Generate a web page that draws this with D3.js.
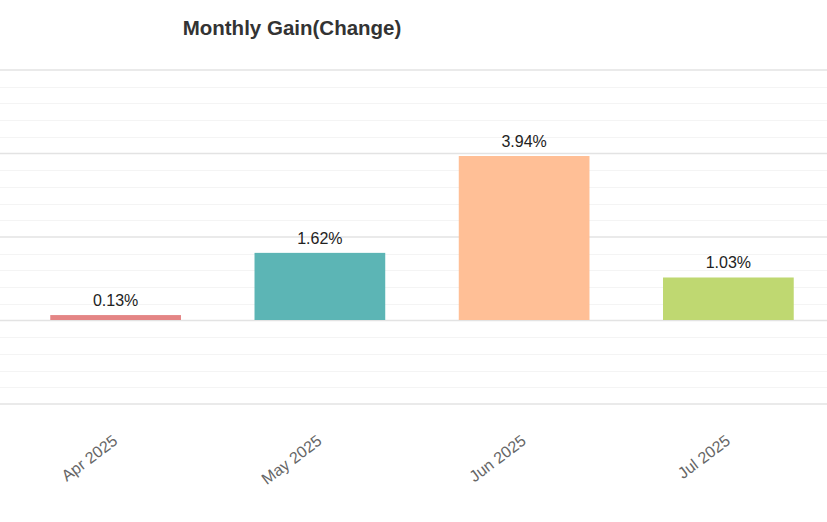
<!DOCTYPE html>
<html><head><meta charset="utf-8">
<script src="https://cdn.jsdelivr.net/npm/d3@7"></script>
<style>body{margin:0;background:#fff;}svg{display:block;}</style>
</head><body>
<svg id="c" width="827" height="522"></svg>
<script>
const categories = ["Apr 2025", "May 2025", "Jun 2025", "Jul 2025"];
const values = [0.13, 1.62, 3.94, 1.03];
const colors = ["#e48585", "#5cb5b5", "#ffbf96", "#bfd871"];
const majorTicks = [-2, 0, 2, 4, 6];
const title = "Monthly Gain(Change)";

const W = 827, H = 522;
const svg = d3.select("#c");
const y = d3.scaleLinear().domain([-2, 6]).range([404, 70]);
const x = d3.scaleBand().domain(categories).range([13.5, 830.5]).paddingInner(0.36).paddingOuter(0.18);

const minor = d3.range(-2, 6.001, 0.4).filter(v => Math.abs(v/2 - Math.round(v/2)) > 0.01);
svg.append("g").selectAll("line").data(minor).join("line")
  .attr("x1", 0).attr("x2", W)
  .attr("y1", d => Math.round(y(d)) + 0.5).attr("y2", d => Math.round(y(d)) + 0.5)
  .attr("stroke", "#f4f4f4").attr("stroke-width", 1);
svg.append("g").selectAll("line").data(majorTicks).join("line")
  .attr("x1", 0).attr("x2", W)
  .attr("y1", d => y(d)).attr("y2", d => y(d))
  .attr("stroke", "#e3e3e3").attr("stroke-width", 1.5);

svg.append("g").selectAll("rect").data(values).join("rect")
  .attr("x", (d, i) => x(categories[i]))
  .attr("width", x.bandwidth())
  .attr("y", d => y(Math.max(0, d)))
  .attr("height", d => Math.abs(y(d) - y(0)) - 0.5)
  .attr("fill", (d, i) => colors[i]);

svg.append("g").selectAll("text").data(values).join("text")
  .attr("x", (d, i) => x(categories[i]) + x.bandwidth() / 2)
  .attr("y", d => y(d) - 9)
  .attr("text-anchor", "middle")
  .attr("font-family", "Liberation Sans, Arial, sans-serif")
  .attr("font-size", 16).attr("fill", "#222")
  .text(d => d.toFixed(2) + "%");

svg.append("g").selectAll("text").data(categories).join("text")
  .attr("transform", d => `translate(${x(d) + x.bandwidth() / 2 + 3},${443}) rotate(-37)`)
  .attr("text-anchor", "end")
  .attr("font-family", "Liberation Sans, Arial, sans-serif")
  .attr("font-size", 16).attr("fill", "#666")
  .text(d => d);

svg.append("text").attr("x", 292).attr("y", 35).attr("text-anchor", "middle")
  .attr("font-family", "Liberation Sans, Arial, sans-serif")
  .attr("font-size", 20.5).attr("font-weight", "bold").attr("fill", "#333")
  .text(title);
</script>
</body></html>
